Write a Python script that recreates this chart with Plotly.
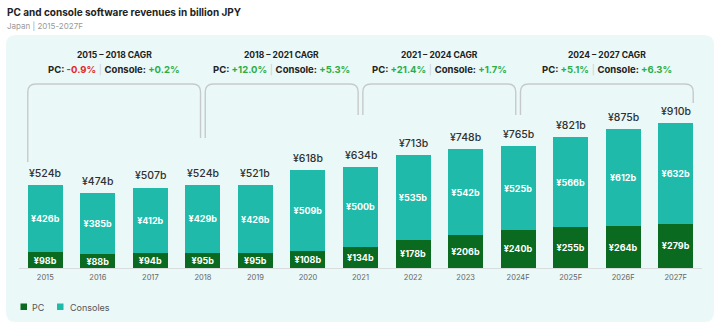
import plotly.graph_objects as go

# ---------------- data ----------------
years = ["2015", "2016", "2017", "2018", "2019", "2020", "2021",
         "2022", "2023", "2024F", "2025F", "2026F", "2027F"]
pc = [98, 88, 94, 95, 95, 108, 134, 178, 206, 240, 255, 264, 279]
consoles = [426, 385, 412, 429, 426, 509, 500, 535, 542, 525, 566, 612, 632]
totals = [524, 474, 507, 524, 521, 618, 634, 713, 748, 765, 821, 875, 910]

cagr_periods = ["2015 – 2018 CAGR", "2018 – 2021 CAGR", "2021 – 2024 CAGR", "2024 – 2027 CAGR"]
cagr_start_idx = [0, 3, 6, 9]
cagr_end_idx = [3, 6, 9, 12]
cagr_pc = [-0.9, 12.0, 21.4, 5.1]
cagr_console = [0.2, 5.3, 1.7, 6.3]

# ---------------- style ----------------
PC_COLOR = "#0A6A1F"
CON_COLOR = "#20BAAA"
PANEL = "#EAF8F8"
BRACKET = "#C6CACA"
RED = "#E2262C"
GREEN = "#2BAE48"
FONT = "Inter"

W, H = 720, 326
L, R, T, B = 19, 18, 60, 58
PW, PH = W - L - R, H - T - B
YMAX = 1308
BASE = H - B  # pixel y of zero line

def py2y(py):
    return (BASE - py) / PH * YMAX

def px2paper(px):
    return (px - L) / PW

def py2paper(py):
    return (BASE - py) / PH

xs = list(range(len(years)))

fig = go.Figure()
fig.add_trace(go.Bar(
    x=xs, y=pc, name="PC", marker=dict(color=PC_COLOR, line=dict(width=0)),
    text=[f"¥{v}b" for v in pc], textposition="inside", insidetextanchor="middle",
    textangle=0,
    textfont=dict(family=FONT, size=9, color="white", weight="bold"),
    constraintext="none", hoverinfo="skip"))
fig.add_trace(go.Bar(
    x=xs, y=consoles, name="Consoles", marker=dict(color=CON_COLOR, line=dict(width=0)),
    text=[f"¥{v}b" for v in consoles], textposition="inside", insidetextanchor="middle",
    textangle=0,
    textfont=dict(family=FONT, size=9, color="white", weight="bold"),
    constraintext="none", hoverinfo="skip"))

shapes = []
annotations = []

# total labels above bars
for i, v in enumerate(totals):
    annotations.append(dict(x=xs[i], y=v, xref="x", yref="y", yanchor="bottom",
                            yshift=3, showarrow=False, text=f"¥{v}b",
                            font=dict(family=FONT, size=10.5, color="#303030", weight=500)))

# panel background
x0p, x1p = px2paper(6), px2paper(714)
y0p, y1p = py2paper(322), py2paper(35)
rx, ry = 10 / PW, 10 / PH
panel_path = (f"M{x0p+rx},{y0p} L{x1p-rx},{y0p} Q{x1p},{y0p} {x1p},{y0p+ry} "
              f"L{x1p},{y1p-ry} Q{x1p},{y1p} {x1p-rx},{y1p} L{x0p+rx},{y1p} "
              f"Q{x0p},{y1p} {x0p},{y1p-ry} L{x0p},{y0p+ry} Q{x0p},{y0p} {x0p+rx},{y0p} Z")
shapes.append(dict(type="path", xref="paper", yref="paper", path=panel_path,
                   fillcolor=PANEL, line=dict(width=0), layer="below"))

# brackets
half = 0.333
gap = 0.045
end_py = [(162, 138), (138, 115), (115, 115), (115, 103)]
top_py = 84
rX = 8 / (PW / len(years))
rY = 8 / PH * YMAX
ytop = py2y(top_py)


def fmt(v):
    c = RED if v < 0 else GREEN
    sign = "+" if v >= 0 else "-"
    return f"<span style='color:{c}'>{sign}{abs(v):.1f}%</span>"


for k in range(len(cagr_periods)):
    s, e = cagr_start_idx[k], cagr_end_idx[k]
    xa = s - half if k == 0 else s + gap
    xb = e + half if k == len(cagr_periods) - 1 else e - gap
    ya, yb = py2y(end_py[k][0]), py2y(end_py[k][1])
    path = (f"M{xa},{ya} L{xa},{ytop-rY} Q{xa},{ytop} {xa+rX},{ytop} "
            f"L{xb-rX},{ytop} Q{xb},{ytop} {xb},{ytop-rY} L{xb},{yb}")
    shapes.append(dict(type="path", xref="x", yref="y", path=path,
                       line=dict(color=BRACKET, width=1.4)))
    xc = (xa + xb) / 2
    annotations.append(dict(x=xc, y=py2paper(55), xref="x", yref="paper", showarrow=False,
                            yanchor="middle",
                            text=f"<b>{cagr_periods[k]}</b>",
                            font=dict(family=FONT, size=8.5, color="#222222")))
    line2 = (f"<b>PC: {fmt(cagr_pc[k])}</b> <span style='color:#D0D0D0'>|</span> "
             f"<b>Console: {fmt(cagr_console[k])}</b>")
    annotations.append(dict(x=xc, y=py2paper(70), xref="x", yref="paper", showarrow=False,
                            yanchor="middle",
                            text=line2, font=dict(family=FONT, size=9.5, color="#222222")))

# custom legend
leg = [("PC", PC_COLOR, 20.5, 30), ("Consoles", CON_COLOR, 57, 68)]
for name, col, sx, tx in leg:
    shapes.append(dict(type="rect", xref="paper", yref="paper",
                       x0=px2paper(sx), x1=px2paper(sx + 6.5),
                       y0=py2paper(310), y1=py2paper(303.5),
                       fillcolor=col, line=dict(width=0)))
    annotations.append(dict(x=px2paper(tx), y=py2paper(307), xref="paper", yref="paper",
                            xanchor="left", yanchor="middle", showarrow=False, text=name,
                            font=dict(family=FONT, size=9, color="#555555")))

# title / subtitle
annotations.append(dict(x=px2paper(5), y=py2paper(12), xref="paper", yref="paper",
                        xanchor="left", yanchor="middle", showarrow=False,
                        text="<b>PC and console software revenues in billion JPY</b>",
                        font=dict(family=FONT, size=10, color="#222222")))
annotations.append(dict(x=px2paper(5), y=py2paper(26), xref="paper", yref="paper",
                        xanchor="left", yanchor="middle", showarrow=False,
                        text="Japan | 2015-2027F",
                        font=dict(family=FONT, size=8, color="#9A9A9A")))

fig.update_layout(
    width=W, height=H, margin=dict(l=L, r=R, t=T, b=B),
    barmode="stack", bargap=0.334,
    paper_bgcolor="white", plot_bgcolor="rgba(0,0,0,0)",
    showlegend=False, shapes=shapes, annotations=annotations,
    xaxis=dict(tickmode="array", tickvals=xs, ticktext=years, range=[-0.5, len(years) - 0.5],
               showgrid=False, zeroline=False, showline=True, linecolor="#D8DCDC",
               linewidth=1, ticks="", ticklabelstandoff=2,
               tickfont=dict(family=FONT, size=7.5, color="#666666"),
               fixedrange=True),
    yaxis=dict(range=[0, YMAX], visible=False, fixedrange=True),
    uniformtext=dict(minsize=8, mode="show"),
)

fig.write_html("out.html", config={"displayModeBar": False})
